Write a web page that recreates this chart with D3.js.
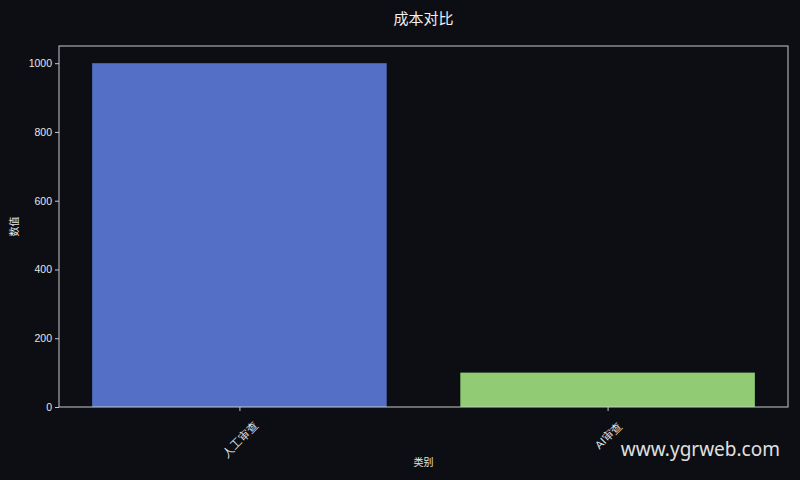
<!DOCTYPE html>
<html>
<head>
<meta charset="utf-8">
<script src="https://cdn.jsdelivr.net/npm/d3@7"></script>
<style>
  html, body { margin: 0; padding: 0; background: #0c0e14; }
  svg { display: block; font-family: "Noto Sans CJK SC", "DejaVu Sans", sans-serif; }
</style>
</head>
<body>
<script>
var categories = ["人工审查", "AI审查"]
var values     = [1000, 100]
var colors     = ["#5470c6", "#91cc75"]
var yTicks     = [0, 200, 400, 600, 800, 1000]

var width = 800, height = 480
var margin = { top: 46, right: 12, bottom: 73, left: 59 }
var plotW = width - margin.left - margin.right
var plotH = height - margin.top - margin.bottom

var svg = d3.select("body").append("svg")
    .attr("width", width)
    .attr("height", height)

svg.append("rect")
    .attr("width", width)
    .attr("height", height)
    .style("fill", "#0c0e14")

var g = svg.append("g")
    .attr("transform", "translate(" + margin.left + "," + margin.top + ")")

// matplotlib-like x limits: bars of width 0.8 with 5% margins
var x = d3.scaleLinear().domain([-0.49, 1.49]).range([0, plotW])
var y = d3.scaleLinear().domain([0, 1050]).range([plotH, 0])

// Bars
g.selectAll(".bar")
    .data(values)
    .enter().append("rect")
    .attr("class", "bar")
    .attr("x", function(d, i) { return x(i - 0.4) })
    .attr("width", function(d, i) { return x(i + 0.4) - x(i - 0.4) })
    .attr("y", function(d) { return y(d) })
    .attr("height", function(d) { return plotH - y(d) })
    .style("fill", function(d, i) { return colors[i] })

// Frame
g.append("rect")
    .attr("width", plotW)
    .attr("height", plotH)
    .style("fill", "none")
    .style("stroke", "#c8c8c8")
    .style("stroke-width", 1)

// Y axis
var yAxis = g.append("g")
    .call(d3.axisLeft(y).tickValues(yTicks).tickSize(4).tickPadding(3)
        .tickFormat(d3.format("d")))
yAxis.select(".domain").remove()
yAxis.selectAll("line").style("stroke", "#c8c8c8")
yAxis.selectAll("text")
    .style("fill", "#e6e6e6")
    .style("font-family", "'Liberation Sans', Arial, sans-serif")
    .style("font-size", "10.5px")

// X axis
var xAxis = g.append("g")
    .attr("transform", "translate(0," + plotH + ")")
    .call(d3.axisBottom(x).tickValues([0, 1]).tickSize(4)
        .tickFormat(function(d) { return categories[d] }))
xAxis.select(".domain").remove()
xAxis.selectAll("line").style("stroke", "#c8c8c8")

// rotated labels: bounding box centred on the tick, top just under it
xAxis.selectAll("text")
    .style("fill", "#e6e6e6")
    .style("font-size", "11px")
    .attr("text-anchor", "middle")
    .attr("dominant-baseline", "central")
    .attr("dy", null)
    .attr("y", 0)
    .attr("transform", function() {
        var len = this.getComputedTextLength()
        var h = (len + 11) * Math.SQRT1_2
        return "translate(0," + (13 + h / 2) + ") rotate(-45)"
    })

// Axis labels
g.append("text")
    .attr("x", plotW / 2)
    .attr("y", plotH + 59)
    .attr("text-anchor", "middle")
    .style("fill", "#e6e6e6")
    .style("font-size", "10px")
    .text("类别")

g.append("text")
    .attr("transform", "translate(-41," + (plotH / 2) + ") rotate(-90)")
    .attr("text-anchor", "middle")
    .style("fill", "#e6e6e6")
    .style("font-size", "10px")
    .text("数值")

// Title
svg.append("text")
    .attr("x", margin.left + plotW / 2)
    .attr("y", 24)
    .attr("text-anchor", "middle")
    .style("fill", "#f0f0f0")
    .style("font-size", "15px")
    .text("成本对比")

// Watermark
svg.append("text")
    .attr("x", 780)
    .attr("y", 456)
    .attr("text-anchor", "end")
    .style("fill", "#e0e0e0")
    .style("font-family", "'Noto Sans', 'DejaVu Sans', sans-serif")
    .style("font-size", "19px")
    .text("www.ygrweb.com")
</script>
</body>
</html>
